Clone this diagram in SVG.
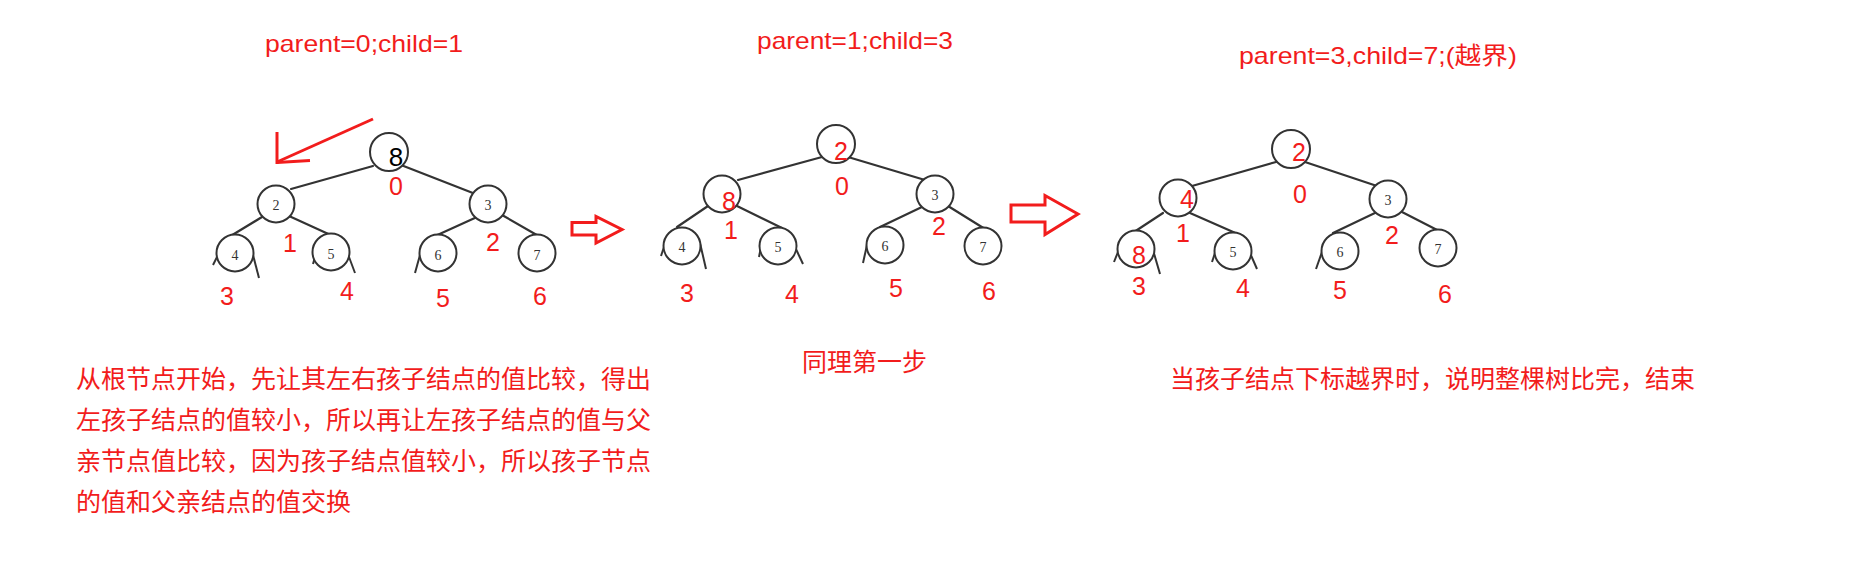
<svg xmlns="http://www.w3.org/2000/svg" width="1851" height="562" viewBox="0 0 1851 562">
<style>
.edge{stroke:#333;stroke-width:2.2;fill:none;stroke-linecap:round}
.stub{stroke:#333;stroke-width:2;fill:none}
circle{fill:#fff;stroke:#333;stroke-width:2}
.lbl{font-family:"Liberation Sans",sans-serif;font-size:25px;fill:#f21c1c;text-anchor:middle}
.big{font-family:"Liberation Sans",sans-serif;font-size:26px;fill:#000;text-anchor:middle}
.val{font-family:"Liberation Serif",serif;font-size:14px;fill:#333;text-anchor:middle}
.cjk{font-family:"Noto Sans CJK SC",sans-serif;font-size:25px;fill:#f21c1c}
.top{font-family:"Liberation Sans","Noto Sans CJK SC",sans-serif;font-size:24px;fill:#f21c1c}
.harrow{fill:#fff;stroke:#f21c1c;stroke-width:3;stroke-linejoin:miter}
.red{stroke:#f21c1c;stroke-width:3;fill:none}
</style>
<rect width="1851" height="562" fill="#fff"/>

<!-- top captions -->
<text class="top" x="265" y="52" textLength="198" lengthAdjust="spacingAndGlyphs">parent=0;child=1</text>
<text class="top" x="757" y="49" textLength="196" lengthAdjust="spacingAndGlyphs">parent=1;child=3</text>
<text class="top" x="1239" y="64" textLength="278" lengthAdjust="spacingAndGlyphs">parent=3,child=7;(越界)</text>

<g id="connectors">
  <!-- tree 1 -->
  <line class="edge" x1="373" y1="166" x2="291" y2="189"/>
  <line class="edge" x1="401" y1="165" x2="478" y2="195"/>
  <line class="edge" x1="262" y1="217" x2="229" y2="237"/>
  <line class="edge" x1="289" y1="216" x2="335" y2="237"/>
  <line class="edge" x1="477" y1="217" x2="433" y2="237"/>
  <line class="edge" x1="502" y1="215" x2="542" y2="238"/>
  <line class="stub" x1="213" y1="265" x2="217" y2="257"/>
  <line class="stub" x1="253" y1="255" x2="259" y2="278"/>
  <line class="stub" x1="313" y1="264" x2="315" y2="257"/>
  <line class="stub" x1="349" y1="257" x2="355" y2="273"/>
  <line class="stub" x1="415" y1="273" x2="420" y2="255"/>
  <!-- tree 2 -->
  <line class="edge" x1="822" y1="157" x2="738" y2="180"/>
  <line class="edge" x1="848" y1="157" x2="925" y2="180"/>
  <line class="edge" x1="708" y1="206" x2="677" y2="227"/>
  <line class="edge" x1="737" y1="206" x2="782" y2="228"/>
  <line class="edge" x1="924" y1="206" x2="880" y2="227"/>
  <line class="edge" x1="948" y1="206" x2="985" y2="229"/>
  <line class="stub" x1="661" y1="256" x2="664" y2="247"/>
  <line class="stub" x1="700" y1="243" x2="706" y2="269"/>
  <line class="stub" x1="759" y1="257" x2="761" y2="247"/>
  <line class="stub" x1="795" y1="247" x2="803" y2="264"/>
  <line class="stub" x1="863" y1="263" x2="867" y2="245"/>
  <!-- tree 3 -->
  <line class="edge" x1="1276" y1="162" x2="1192" y2="186"/>
  <line class="edge" x1="1305" y1="162" x2="1383" y2="188"/>
  <line class="edge" x1="1163" y1="213" x2="1128" y2="236"/>
  <line class="edge" x1="1190" y1="213" x2="1240" y2="235"/>
  <line class="edge" x1="1377" y1="212" x2="1333" y2="233"/>
  <line class="edge" x1="1402" y1="212" x2="1443" y2="233"/>
  <line class="stub" x1="1114" y1="262" x2="1118" y2="252"/>
  <line class="stub" x1="1153" y1="250" x2="1160" y2="274"/>
  <line class="stub" x1="1212" y1="262" x2="1215" y2="253"/>
  <line class="stub" x1="1250" y1="253" x2="1257" y2="269"/>
  <line class="stub" x1="1316" y1="269" x2="1322" y2="252"/>
  <!-- red hand arrow -->
  <line class="red" x1="373" y1="119" x2="277" y2="162"/>
  <line class="red" x1="277" y1="132" x2="277" y2="164"/>
  <line class="red" x1="277" y1="162.5" x2="310" y2="160.5"/>
  <!-- hollow arrows -->
  <polygon class="harrow" points="572,222.5 596,222.5 596,216.5 622,229.5 596,243 596,235 572,235"/>
  <polygon class="harrow" points="1011,205 1045,205 1045,195.5 1078,214 1045,234.5 1045,222 1011,222"/>
</g>

<!-- tree 1 -->
<g id="t1n0"><circle cx="389" cy="152" r="19"/><text class="big" x="396" y="166">8</text></g>
<g id="t1n1"><circle cx="276" cy="204" r="18.5"/><text class="val" x="276" y="210">2</text></g>
<g id="t1n2"><circle cx="488" cy="204" r="18.5"/><text class="val" x="488" y="210">3</text></g>
<g id="t1n3"><circle cx="235" cy="253" r="18.5"/><text class="val" x="235" y="260">4</text></g>
<g id="t1n4"><circle cx="331" cy="252" r="18.5"/><text class="val" x="331" y="259">5</text></g>
<g id="t1n5"><circle cx="438" cy="253" r="18.5"/><text class="val" x="438" y="260">6</text></g>
<g id="t1n6"><circle cx="537" cy="253" r="18.5"/><text class="val" x="537" y="260">7</text></g>
<g id="t1idx">
  <text class="lbl" x="396" y="195">0</text>
  <text class="lbl" x="290" y="252">1</text>
  <text class="lbl" x="493" y="251">2</text>
  <text class="lbl" x="227" y="305">3</text>
  <text class="lbl" x="347" y="300">4</text>
  <text class="lbl" x="443" y="307">5</text>
  <text class="lbl" x="540" y="305">6</text>
</g>

<!-- tree 2 -->
<g id="t2n0"><circle cx="836" cy="144" r="19"/><text class="lbl" x="841" y="160">2</text></g>
<g id="t2n1"><circle cx="722" cy="194" r="18.5"/><text class="lbl" x="729" y="210">8</text></g>
<g id="t2n2"><circle cx="935" cy="194" r="18.5"/><text class="val" x="935" y="200">3</text></g>
<g id="t2n3"><circle cx="682" cy="246" r="18.5"/><text class="val" x="682" y="252">4</text></g>
<g id="t2n4"><circle cx="778" cy="246" r="18.5"/><text class="val" x="778" y="252">5</text></g>
<g id="t2n5"><circle cx="885" cy="245" r="18.5"/><text class="val" x="885" y="251">6</text></g>
<g id="t2n6"><circle cx="983" cy="246" r="18.5"/><text class="val" x="983" y="252">7</text></g>
<g id="t2idx">
  <text class="lbl" x="842" y="195">0</text>
  <text class="lbl" x="731" y="239">1</text>
  <text class="lbl" x="939" y="235">2</text>
  <text class="lbl" x="687" y="302">3</text>
  <text class="lbl" x="792" y="303">4</text>
  <text class="lbl" x="896" y="297">5</text>
  <text class="lbl" x="989" y="300">6</text>
</g>

<!-- tree 3 -->
<g id="t3n0"><circle cx="1291" cy="149" r="19"/><text class="lbl" x="1299" y="161">2</text></g>
<g id="t3n1"><circle cx="1178" cy="198" r="18.5"/><text class="lbl" x="1187" y="208">4</text></g>
<g id="t3n2"><circle cx="1388" cy="199" r="18.5"/><text class="val" x="1388" y="205">3</text></g>
<g id="t3n3"><circle cx="1136" cy="249" r="18.5"/><text class="lbl" x="1139" y="264">8</text></g>
<g id="t3n4"><circle cx="1233" cy="251" r="18.5"/><text class="val" x="1233" y="257">5</text></g>
<g id="t3n5"><circle cx="1340" cy="251" r="18.5"/><text class="val" x="1340" y="257">6</text></g>
<g id="t3n6"><circle cx="1438" cy="248" r="18.5"/><text class="val" x="1438" y="254">7</text></g>
<g id="t3idx">
  <text class="lbl" x="1300" y="203">0</text>
  <text class="lbl" x="1183" y="242">1</text>
  <text class="lbl" x="1392" y="244">2</text>
  <text class="lbl" x="1139" y="295">3</text>
  <text class="lbl" x="1243" y="297">4</text>
  <text class="lbl" x="1340" y="299">5</text>
  <text class="lbl" x="1445" y="303">6</text>
</g>

<!-- descriptions -->
<g id="desc1">
  <text class="cjk" x="76" y="388">从根节点开始，先让其左右孩子结点的值比较，得出</text>
  <text class="cjk" x="76" y="429">左孩子结点的值较小，所以再让左孩子结点的值与父</text>
  <text class="cjk" x="76" y="470">亲节点值比较，因为孩子结点值较小，所以孩子节点</text>
  <text class="cjk" x="76" y="511">的值和父亲结点的值交换</text>
</g>
<g id="desc2"><text class="cjk" x="802" y="371">同理第一步</text></g>
<g id="desc3"><text class="cjk" x="1170" y="388">当孩子结点下标越界时，说明整棵树比完，结束</text></g>
</svg>
